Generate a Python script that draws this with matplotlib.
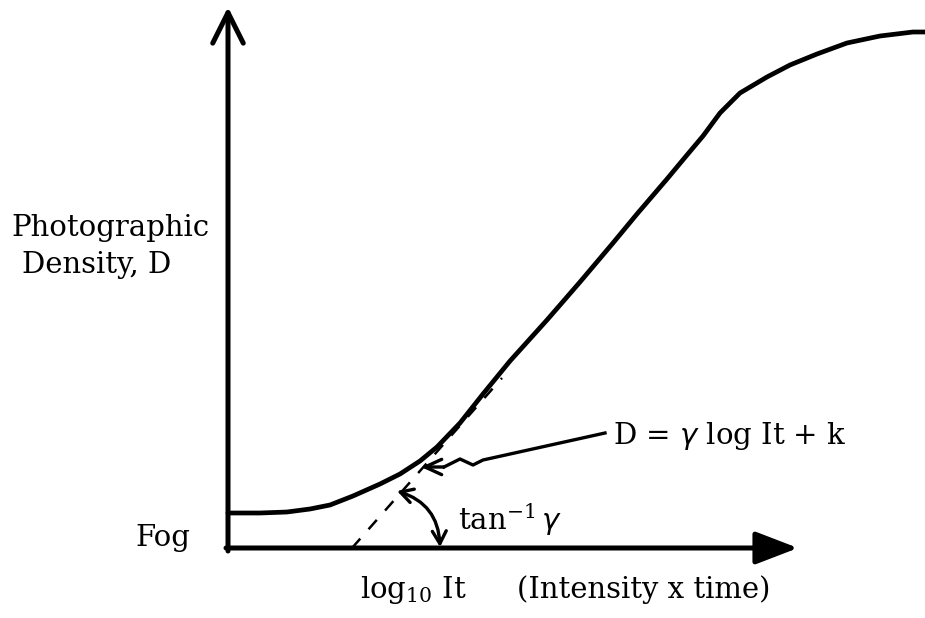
import numpy as np
import matplotlib.pyplot as plt
from matplotlib.patches import FancyArrowPatch

curve_x = [228, 260, 287, 310, 330, 353, 380, 400, 420, 437, 460, 483, 510,
           547, 580, 613, 637, 667, 687, 703, 720, 740, 767, 790, 817, 847, 880, 913, 925]
curve_y = [513, 513, 512, 509, 505, 496, 484, 474, 461, 447, 423, 394, 361,
           320, 282, 243, 214, 179, 155, 136, 113, 93, 77, 65, 54, 43, 36, 32, 32]

# tangent to the straight part, extended down to the axis
tan_x = [352, 502]
tan_y = [548, 378]

# pointer from the equation label to the curve
ptr_x = [605, 483, 473, 460, 444, 421]
ptr_y = [433, 460, 465, 459, 467, 467]

plt.rcParams['font.family'] = ['DejaVu Serif']

fig = plt.figure(figsize=(9.25, 6.18), dpi=100)
ax = fig.add_axes([0, 0, 1, 1])
ax.set_xlim(0, 925)
ax.set_ylim(618, 0)
ax.axis('off')

k = 'black'
# axes with arrows
ax.annotate('', xy=(228, 7), xytext=(228, 551),
            arrowprops=dict(arrowstyle='->,head_length=2.2,head_width=1.1', lw=3.6, color=k,
                            shrinkA=0, shrinkB=0))
ax.annotate('', xy=(798, 548), xytext=(226, 548),
            arrowprops=dict(arrowstyle='-|>,head_length=2.6,head_width=1.0', lw=3.6, color=k,
                            shrinkA=0, shrinkB=0))

ax.plot(curve_x, curve_y, color=k, lw=3.4, solid_capstyle='round', solid_joinstyle='round')
ax.plot(tan_x, tan_y, color=k, lw=1.8, ls=(0, (5, 5)))

# equation pointer
ax.plot(ptr_x[:-1], ptr_y[:-1], color=k, lw=2.4, solid_joinstyle='round')
ax.annotate('', xy=(ptr_x[-1], ptr_y[-1]), xytext=(ptr_x[-2], ptr_y[-2]),
            arrowprops=dict(arrowstyle='->,head_length=1.2,head_width=0.55', lw=2.4, color=k,
                            shrinkA=0, shrinkB=0))

# angle arrow
arc = FancyArrowPatch((397, 491), (440, 547), connectionstyle='arc3,rad=-0.35',
                      arrowstyle='<->,head_length=9,head_width=5', lw=2.4, color=k,
                      shrinkA=0, shrinkB=0)
ax.add_patch(arc)

fs = 21
ax.text(110, 228, 'Photographic', fontsize=fs, ha='center', va='center')
ax.text(22, 265, 'Density, D', fontsize=fs, ha='left', va='center')
ax.text(135, 538, 'Fog', fontsize=fs, ha='left', va='center')
ax.text(458, 520, r'tan$^{\mathregular{-1}}\,\gamma$', fontsize=fs, ha='left', va='center')
ax.text(613, 436, r'D = $\gamma$ log It + k', fontsize=fs, ha='left', va='center')
ax.text(360, 590, r'log$_{\mathregular{10}}$ It', fontsize=fs, ha='left', va='center')
ax.text(517, 590, '(Intensity x time)', fontsize=fs, ha='left', va='center')

fig.savefig('out.png', dpi=100, facecolor='white')
